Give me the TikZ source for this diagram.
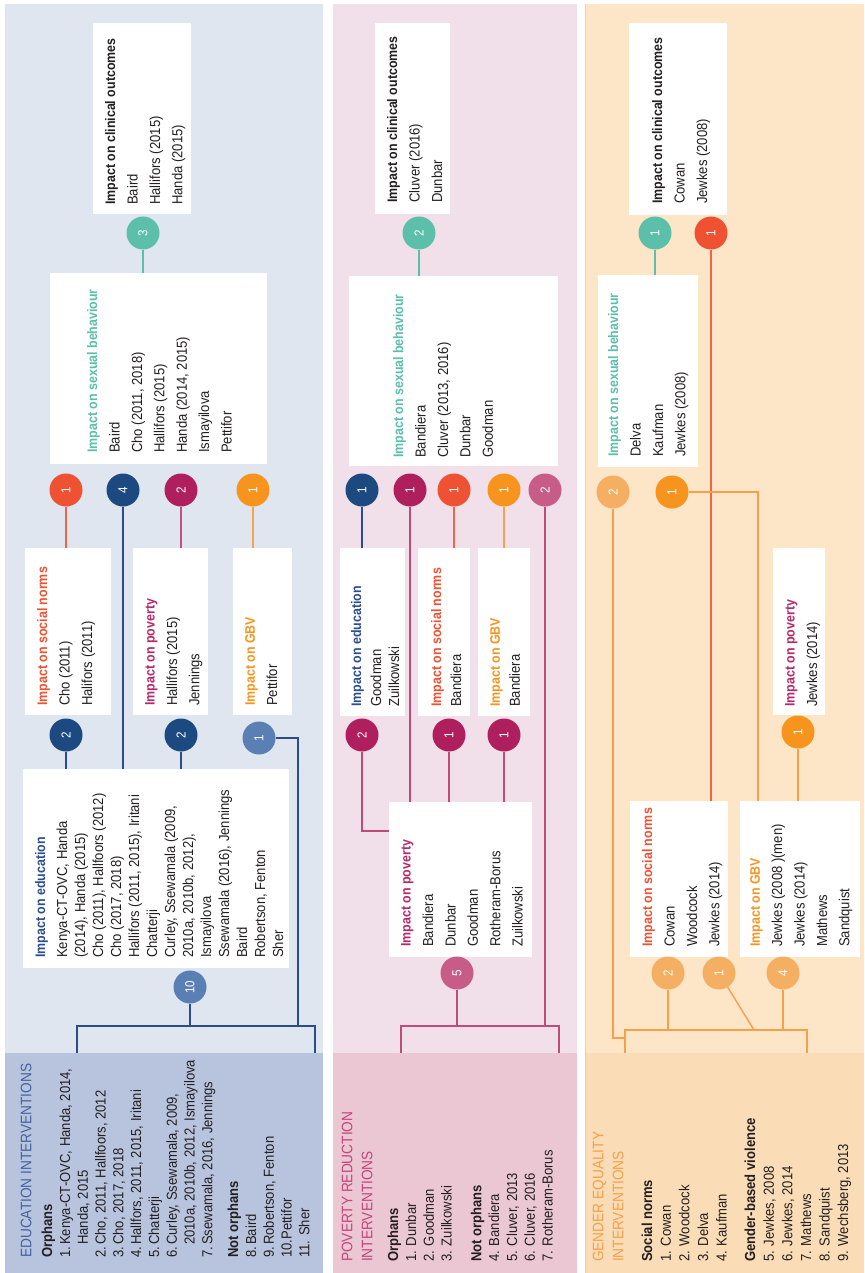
\documentclass[tikz,border=0pt]{standalone}
\usepackage{fontspec}
\setmainfont{Liberation Sans}[FakeStretch=0.9]
\usetikzlibrary{fit}

\definecolor{ink}{HTML}{231F20}
\definecolor{eduBg}{HTML}{DFE6EF}
\definecolor{eduHd}{HTML}{B8C4DD}
\definecolor{eduTx}{HTML}{4263A2}
\definecolor{povBg}{HTML}{F1DFE9}
\definecolor{povHd}{HTML}{EAC7D3}
\definecolor{povTx}{HTML}{C4457C}
\definecolor{genBg}{HTML}{FDE5C8}
\definecolor{genHd}{HTML}{FADCB6}
\definecolor{genTx}{HTML}{F5A04A}
\definecolor{genEdge}{HTML}{F9CB97}
\definecolor{cTeal}{HTML}{5CBFAA}
\definecolor{cRed}{HTML}{EE5233}
\definecolor{cOrange}{HTML}{F7941E}
\definecolor{cNavy}{HTML}{1C4A80}
\definecolor{cBlue}{HTML}{5A7FB4}
\definecolor{cMag}{HTML}{AF1F5D}
\definecolor{cPink}{HTML}{C75C87}
\definecolor{cPeach}{HTML}{F5AF62}
\definecolor{tEdu}{HTML}{2E4E8E}
\definecolor{tPov}{HTML}{B5286A}
\definecolor{eduLine}{HTML}{2C4C89}
\definecolor{povLine}{HTML}{C04A78}
\definecolor{genLine}{HTML}{F6A04A}
\definecolor{redLine}{HTML}{F06448}
\definecolor{orgLine}{HTML}{F7A24E}
\definecolor{magLine}{HTML}{C4507E}

\pgfdeclarelayer{bg}
\pgfdeclarelayer{links}
\pgfsetlayers{bg,links,main}

\newcommand{\ttl}[2]{{\fontsize{13.8}{13.8}\selectfont\textcolor{#1}{\textbf{#2}}}}
\newcommand{\nitem}[2]{\makebox[13pt][l]{#1}#2}

\begin{document}
\begin{tikzpicture}[x=1pt,y=-1pt]
\tikzstyle{num}=[circle,minimum size=33pt,inner sep=0pt,text=white,rotate=90,font=\fontsize{13}{13}\selectfont]
\tikzstyle{outbox}=[fill=white,inner sep=0pt,outer sep=0pt]
\tikzstyle{txt}=[rotate=90,anchor=north west,align=left,inner sep=0pt,text=ink,font=\fontsize{14.5}{22.4}\selectfont]
\tikzstyle{tight}=[font=\fontsize{14.5}{18}\selectfont]
\tikzstyle{mid}=[font=\fontsize{14.5}{20}\selectfont]
\tikzstyle{head}=[rotate=90,anchor=north west,align=left,inner sep=0pt,font=\fontsize{15.2}{20}\selectfont]
\tikzstyle{hlist}=[txt,font=\fontsize{14.5}{17.8}\selectfont]
\tikzstyle{link}=[line width=1.4pt]

\useasboundingbox (0,0) rectangle (864,1273);

\begin{pgfonlayer}{bg}
\fill[white] (0,0) rectangle (864,1273);
\fill[eduBg] (5,4) rectangle (323,1053);
\fill[eduHd] (5,1053) rectangle (323,1273);
\fill[povBg] (333,4) rectangle (577,1053);
\fill[povHd] (333,1053) rectangle (577,1273);
\fill[genBg] (585,4) rectangle (864,1053);
\fill[genHd] (585,1053) rectangle (864,1273);
\draw[genEdge,line width=1pt] (585.5,4) -- (585.5,1273);
\end{pgfonlayer}

% education
\node[head,text=eduTx] (eduHead) at (20.5,1258) {EDUCATION INTERVENTIONS};
\node[hlist] (eduList) at (41.5,1258) {\textbf{Orphans}\\
\nitem{1.}{Kenya-CT-OVC, Handa, 2014,}\\
\nitem{}{Handa, 2015}\\
\nitem{2.}{Cho, 2011, Hallfoors, 2012}\\
\nitem{3.}{Cho, 2017, 2018}\\
\nitem{4.}{Hallfors, 2011, 2015, Iritani}\\
\nitem{5.}{Chatterji}\\
\nitem{6.}{Curley, Ssewamala, 2009,}\\
\nitem{}{2010a, 2010b, 2012, Ismayilova}\\
\nitem{7.}{Ssewamala, 2016, Jennings}\\[8pt]
\textbf{Not orphans}\\
\nitem{8.}{Baird}\\
\nitem{9.}{Robertson, Fenton}\\
10.Pettifor\\
11. Sher};

\node[outbox,fit={(93,23) (191,214)}] (clinEdu) {};
\node[outbox,fit={(50,273) (267,464)}] (sexEdu) {};
\node[outbox,fit={(25,548) (111,715)}] (socEdu) {};
\node[outbox,fit={(133,548) (208,715)}] (povEdu) {};
\node[outbox,fit={(233,548) (292,715)}] (gbvEdu) {};
\node[outbox,fit={(23,769) (289,968)}] (eduEdu) {};

\node[txt] (clinEduT) at (105,205) {\ttl{ink}{Impact on clinical outcomes}\\Baird\\Hallifors (2015)\\Handa (2015)};
\node[txt] (sexEduT) at (87,453) {\ttl{cTeal}{Impact on sexual behaviour}\\Baird\\Cho (2011, 2018)\\Hallifors (2015)\\Handa (2014, 2015)\\Ismayilova\\Pettifor};
\node[txt] (socEduT) at (37,706) {\ttl{cRed}{Impact on social norms}\\Cho (2011)\\Halifors (2011)};
\node[txt] (povEduT) at (145,706) {\ttl{tPov}{Impact on poverty}\\Hallifors (2015)\\Jennings};
\node[txt] (gbvEduT) at (245,706) {\ttl{cOrange}{Impact on GBV}\\Pettifor};
\node[txt,tight] (eduEduT) at (35,958) {\ttl{tEdu}{Impact on education}\\[4pt]
Kenya-CT-OVC, Handa\\(2014), Handa (2015)\\Cho (2011), Hallfoors (2012)\\Cho (2017, 2018)\\
Hallifors (2011, 2015), Iritani\\Chatterji\\Curley, Ssewamala (2009,\\2010a, 2010b, 2012),\\
Ismayilova\\Ssewamala (2016), Jennings\\Baird\\Robertson, Fenton\\Sher};

\node[num,fill=cTeal] (eT3) at (143,233) {3};
\node[num,fill=cRed] (eA1) at (66,490) {1};
\node[num,fill=cNavy] (eA2) at (123,490) {4};
\node[num,fill=cMag] (eA3) at (181,490) {2};
\node[num,fill=cOrange] (eA4) at (253,490) {1};
\node[num,fill=cNavy] (eB1) at (66,735) {2};
\node[num,fill=cNavy] (eB2) at (181,735) {2};
\node[num,fill=cBlue] (eB3) at (259,738) {1};
\node[num,fill=cBlue] (eC1) at (190,987) {10};
\coordinate (eduJ) at (298,1026);
\coordinate (eduL) at (77,1053);
\coordinate (eduR) at (315,1053);

% poverty
\node[head,text=povTx] (povHead) at (341.5,1262) {POVERTY REDUCTION\\INTERVENTIONS};
\node[hlist] (povList) at (387.5,1262) {\textbf{Orphans}\\1. Dunbar\\2. Goodman\\3. Zuilkowski\\[12pt]
\textbf{Not orphans}\\4. Bandiera\\5. Cluver, 2013\\6. Cluver, 2016\\7. Rotheram-Borus};

\node[outbox,fit={(375,23) (450,214)}] (clinPov) {};
\node[outbox,fit={(349,276) (558,466)}] (sexPov) {};
\node[outbox,fit={(340,548) (405,716)}] (eduPov) {};
\node[outbox,fit={(418,548) (470,716)}] (socPov) {};
\node[outbox,fit={(478,548) (530,716)}] (gbvPov) {};
\node[outbox,fit={(389,802) (532,957)}] (povPov) {};

\node[txt] (clinPovT) at (387,203) {\ttl{ink}{Impact on clinical outcomes}\\Cluver (2016)\\Dunbar};
\node[txt] (sexPovT) at (393,458) {\ttl{cTeal}{Impact on sexual behaviour}\\Bandiera\\Cluver (2013, 2016)\\Dunbar\\Goodman};
\node[txt,tight] (eduPovT) at (351,707) {\ttl{tEdu}{Impact on education}\\[2pt]Goodman\\Zuilkowski};
\node[txt,mid] (socPovT) at (431,707) {\ttl{cRed}{Impact on social norms}\\Bandiera};
\node[txt,mid] (gbvPovT) at (490,707) {\ttl{cOrange}{Impact on GBV}\\Bandiera};
\node[txt] (povPovT) at (401,947) {\ttl{tPov}{Impact on poverty}\\Bandiera\\Dunbar\\Goodman\\Rotheram-Borus\\Zuilkowski};

\node[num,fill=cTeal] (pT2) at (419,233) {2};
\node[num,fill=cNavy] (pA1) at (362,490) {1};
\node[num,fill=cMag] (pA2) at (410,490) {1};
\node[num,fill=cRed] (pA3) at (454,490) {1};
\node[num,fill=cOrange] (pA4) at (504,490) {1};
\node[num,fill=cPink] (pA5) at (545,490) {2};
\node[num,fill=cMag] (pB1) at (362,735) {2};
\node[num,fill=cMag] (pB2) at (449,735) {1};
\node[num,fill=cMag] (pB3) at (504,735) {1};
\node[num,fill=cPink] (pC1) at (457,973) {5};
\coordinate (povIn) at (389,831);
\coordinate (povJ) at (546,1026);
\coordinate (povL) at (401,1053);
\coordinate (povR) at (559,1053);

% gender
\node[head,text=genTx] (genHead) at (592.5,1262) {GENDER EQUALITY\\INTERVENTIONS};
\node[hlist,font=\fontsize{14.5}{18.6}\selectfont] (genList) at (641.5,1262) {\textbf{Social norms}\\1. Cowan\\2. Woodcock\\3. Delva\\4. Kaufman\\[10pt]
\textbf{Gender-based violence}\\5. Jewkes, 2008\\6. Jewkes, 2014\\7. Mathews\\8. Sandquist\\9. Wechsberg, 2013};

\node[outbox,fit={(629,23) (727,215)}] (clinGen) {};
\node[outbox,fit={(598,275) (698,467)}] (sexGen) {};
\node[outbox,fit={(773,548) (825,715)}] (povGen) {};
\node[outbox,fit={(630,801) (728,957)}] (socGen) {};
\node[outbox,fit={(740,801) (860,957)}] (gbvGen) {};

\node[txt] (clinGenT) at (652,204) {\ttl{ink}{Impact on clinical outcomes}\\Cowan\\Jewkes (2008)};
\node[txt] (sexGenT) at (608,457) {\ttl{cTeal}{Impact on sexual behaviour}\\Delva\\Kaufman\\Jewkes (2008)};
\node[txt] (povGenT) at (785,707) {\ttl{tPov}{Impact on poverty}\\Jewkes (2014)};
\node[txt] (socGenT) at (642,947) {\ttl{cRed}{Impact on social norms}\\Cowan\\Woodcock\\Jewkes (2014)};
\node[txt] (gbvGenT) at (750,947) {\ttl{cOrange}{Impact on GBV}\\Jewkes (2008 )(men)\\Jewkes (2014)\\Mathews\\Sandquist};

\node[num,fill=cTeal] (gT1) at (655,233) {1};
\node[num,fill=cRed] (gT2) at (711,233) {1};
\node[num,fill=cPeach] (gA1) at (613,492) {2};
\node[num,fill=cOrange] (gA2) at (672,492) {1};
\node[num,fill=cOrange] (gB1) at (798,732) {1};
\node[num,fill=cPeach] (gC1) at (668,973) {2};
\node[num,fill=cPeach] (gC2) at (719,973) {1};
\node[num,fill=cPeach] (gC3) at (783,973) {4};
\coordinate (genIn) at (625,1038);
\coordinate (gbvIn) at (758,801);
\coordinate (genD) at (754,1030);
\coordinate (genJ) at (716,1030);
\coordinate (genL) at (625,1053);
\coordinate (genR) at (807,1053);

\begin{pgfonlayer}{links}
\draw[link,cTeal] (eT3) -- (eT3 |- sexEdu.north);
\draw[link,redLine] (eA1) -- (eA1 |- socEdu.north);
\draw[link,eduLine] (eA2) -- (eA2 |- eduEdu.north);
\draw[link,magLine] (eA3) -- (eA3 |- povEdu.north);
\draw[link,orgLine] (eA4) -- (eA4 |- gbvEdu.north);
\draw[link,eduLine] (eB1) -- (eB1 |- eduEdu.north);
\draw[link,eduLine] (eB2) -- (eB2 |- eduEdu.north);
\draw[link,eduLine] (eB3) -| (eduJ);
\draw[link,eduLine] (eC1) -- (eC1 |- eduJ);
\draw[link,eduLine] (eduL) |- (eduJ) -| (eduR);

\draw[link,cTeal] (pT2) -- (pT2 |- sexPov.north);
\draw[link,eduLine] (pA1) -- (pA1 |- eduPov.north);
\draw[link,povLine] (pA2) -- (pA2 |- povPov.north);
\draw[link,redLine] (pA3) -- (pA3 |- socPov.north);
\draw[link,orgLine] (pA4) -- (pA4 |- gbvPov.north);
\draw[link,povLine] (pA5) -- (pA5 |- povJ);
\draw[link,povLine] (pB1) |- (povIn);
\draw[link,povLine] (pB2) -- (pB2 |- povPov.north);
\draw[link,povLine] (pB3) -- (pB3 |- povPov.north);
\draw[link,povLine] (pC1) -- (pC1 |- povJ);
\draw[link,povLine] (povL) |- (povJ) -| (povR);

\draw[link,cTeal] (gT1) -- (gT1 |- sexGen.north);
\draw[link,redLine] (gT2) -- (gT2 |- socGen.north);
\draw[link,genLine] (gA1) |- (genIn);
\draw[link,genLine] (gA2) -| (gbvIn);
\draw[link,genLine] (gB1) -- (gB1 |- gbvGen.north);
\draw[link,genLine] (gC1) -- (gC1 |- genJ);
\draw[link,genLine] (gC2) -- (genD);
\draw[link,genLine] (gC3) -- (gC3 |- genJ);
\draw[link,genLine] (genL) |- (genJ) -| (genR);
\end{pgfonlayer}
\end{tikzpicture}
\end{document}
